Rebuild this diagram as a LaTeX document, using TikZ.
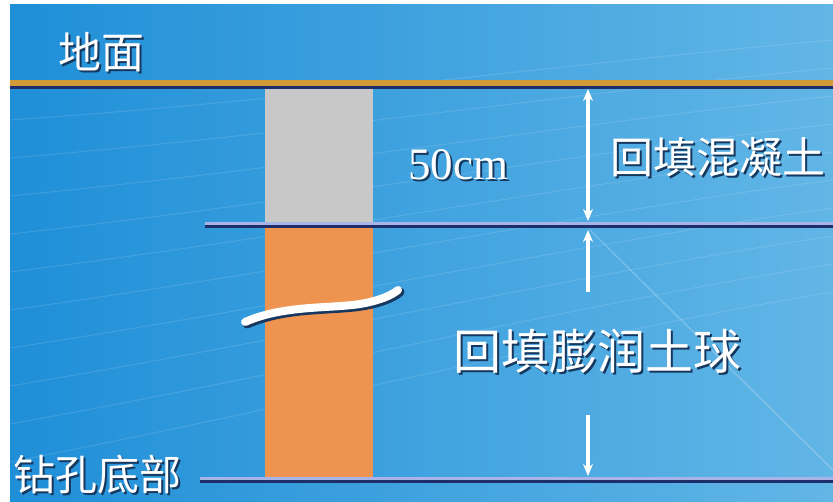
\documentclass[tikz,border=0pt]{standalone}
\usepackage{fontspec}
\newfontfamily\cjk{Noto Sans CJK SC}
\newfontfamily\numfont{Liberation Serif}
\usetikzlibrary{arrows.meta}
\definecolor{bgL}{HTML}{1F8FD8}
\definecolor{bgR}{HTML}{62B6E6}
\definecolor{concrete}{HTML}{C8C8C8}
\definecolor{clay}{HTML}{EE9350}
\definecolor{gold}{HTML}{D09A38}
\definecolor{lineTop}{HTML}{A8B4E8}
\definecolor{lineBot}{HTML}{1E2E6A}
\definecolor{shadow}{HTML}{16385E}
\newcommand{\shtxt}[1]{\rlap{\kern2pt\raisebox{-2pt}{\textcolor{shadow}{#1}}}#1}
\tikzset{
  lbl/.style={text=white,inner sep=0pt,anchor=west},
  dimarrow/.style={white,line width=4pt,-{Stealth[length=12pt,width=10pt]}},
  streak/.style={white,opacity=0.12,line width=1pt}
}
\begin{document}
\begin{tikzpicture}[x=1pt,y=-1pt]
\useasboundingbox (0,0) rectangle (833,501);
\fill[white] (0,0) rectangle (833,501);
\shade[left color=bgL,right color=bgR] (10,4) rectangle (833,501);
% faint background streaks
\foreach \i in {0,...,9}{
  \draw[streak] (10,{120+\i*38}) .. controls (300,{100+\i*34}) and (600,{60+\i*30}) .. (833,{40+\i*28});
}
\draw[white,opacity=0.25,line width=1.2pt] (590,230) -- (833,470);
% ground line
\fill[gold] (10,80) rectangle (833,86);
\fill[lineBot] (10,86) rectangle (833,89);
% columns
\node[fill=concrete,inner sep=0pt,minimum width=108pt,minimum height=134pt,anchor=north west] (concrete) at (265,89) {};
\node[fill=clay,inner sep=0pt,minimum width=108pt,minimum height=252pt,anchor=north west] (bento) at (265,227) {};
% middle line
\fill[lineTop] (205,222) rectangle (833,225);
\fill[lineBot] (205,225) rectangle (833,228);
% bottom line
\fill[lineTop] (200,477) rectangle (833,480);
\fill[lineBot] (200,480) rectangle (833,483);
% break mark
\draw[shadow,line width=9pt,line cap=round] (247,324) .. controls (290,305) and (340,312) .. (372,304) .. controls (388,300) and (395,296) .. (400,292);
\draw[white,line width=8pt,line cap=round] (245,322) .. controls (288,303) and (338,310) .. (370,302) .. controls (386,298) and (393,294) .. (398,290);
% dimension arrows
\coordinate (a1) at (588,89);
\coordinate (a2) at (588,221);
\coordinate (a3) at (588,292);
\coordinate (a4) at (588,230);
\coordinate (a5) at (588,415);
\coordinate (a6) at (588,476);
\draw[dimarrow,{Stealth[length=12pt,width=10pt]}-{Stealth[length=12pt,width=10pt]}] (a1) -- (a2);
\draw[dimarrow] (a3) -- (a4);
\draw[dimarrow] (a5) -- (a6);
% labels
\node[lbl,font=\cjk\fontsize{43}{43}\selectfont] (ground) at (58,53) {\shtxt{地面}};
\node[lbl,font=\numfont\fontsize{45}{45}\selectfont] (cm) at (408,166) {\shtxt{50cm}};
\node[lbl,font=\cjk\fontsize{43}{43}\selectfont] (conc) at (610,158) {\shtxt{回填混凝土}};
\node[lbl,font=\cjk\fontsize{48}{48}\selectfont] (bent) at (453,352) {\shtxt{回填膨润土球}};
\node[lbl,font=\cjk\fontsize{42}{42}\selectfont] (bottom) at (13,476) {\shtxt{钻孔底部}};
\end{tikzpicture}
\end{document}
